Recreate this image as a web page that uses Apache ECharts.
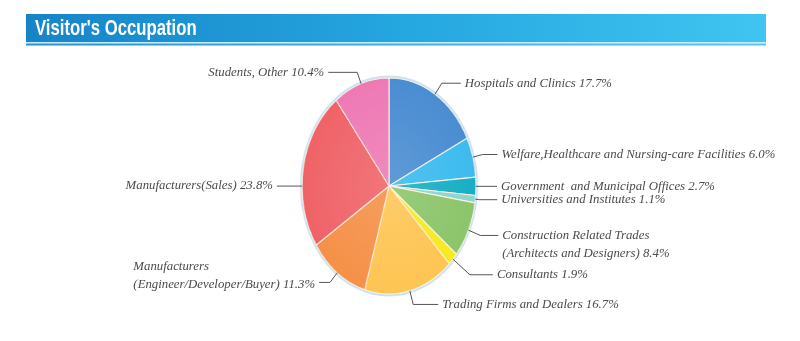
<!DOCTYPE html>
<html>
<head>
<meta charset="utf-8">
<script src="https://cdn.jsdelivr.net/npm/echarts@6/dist/echarts.min.js"></script>
<style>
  html, body { margin: 0; padding: 0; background: #ffffff; }
  #wrap { position: relative; width: 800px; height: 341px; overflow: hidden; }
  #pie { position: absolute; left: 0; top: 0; width: 800px; height: 341px;
         transform-origin: 389px 186px; }
  #main { position: absolute; left: 0; top: 0; width: 800px; height: 341px; }
</style>
</head>
<body>
<div id="wrap">
  <div id="pie"></div>
  <div id="main"></div>
</div>
<script>
// ---- data ----
const titleText = "Visitor's Occupation";
const categories = [
  'Hospitals and Clinics',
  'Welfare,Healthcare and Nursing-care Facilities',
  'Government  and Municipal Offices',
  'Universities and Institutes',
  'Construction Related Trades\n(Architects and Designers)',
  'Consultants',
  'Trading Firms and Dealers',
  'Manufacturers\n(Engineer/Developer/Buyer)',
  'Manufacturers(Sales)',
  'Students, Other'
];
const values = [17.7, 6.0, 2.7, 1.1, 8.4, 1.9, 16.7, 11.3, 23.8, 10.4];

// ---- styles / layout ----
const colors = ['#4a8dd2', '#3dbbef', '#17afc6', '#8fd4cf', '#8cc56b',
                '#f7ea1e', '#fec553', '#f59148', '#ef6368', '#ee7ab5'];
const CX = 389, CY = 186, RY = 108, RX = 87;
const anchorFrac = [0.5, 0.5, 0.5, 0.5, 0.5, 0.5, 0.5, 0.5, 0.386, 0.5];
const elbowLen   = [13, 10, 3, 4, 13, 23, 14, 12, 0, 12];
const armLen     = [19, 15, 18, 18, 18, 23, 25, 11, 25, 29];
const LINE_H = 18;

document.getElementById('pie').style.transform = 'scaleX(' + (RX / RY) + ')';

function lighten(hex, t) {
  const n = parseInt(hex.slice(1), 16);
  const r = (n >> 16) & 255, g = (n >> 8) & 255, b = n & 255;
  const f = c => Math.round(c + (255 - c) * t);
  return 'rgb(' + f(r) + ',' + f(g) + ',' + f(b) + ')';
}

const pieData = categories.map((c, i) => ({
  name: c,
  value: values[i],
  itemStyle: {
    color: {
      type: 'radial', x: CX, y: CY, r: RY, global: true,
      colorStops: [{ offset: 0, color: lighten(colors[i], 0.12) },
                   { offset: 1, color: colors[i] }]
    }
  }
}));

// ---- slice chart (horizontally squeezed to an ellipse) ----
const pieChart = echarts.init(document.getElementById('pie'), null, { renderer: 'canvas' });
pieChart.setOption({
  animation: false,
  graphic: [{
    type: 'circle', z: -10,
    shape: { cx: CX, cy: CY, r: RY + 2.5 },
    style: { fill: '#c9e3f2' }
  }],
  series: [{
    type: 'pie',
    center: [CX, CY],
    radius: RY,
    startAngle: 90,
    clockwise: true,
    label: { show: false },
    labelLine: { show: false },
    itemStyle: { borderColor: 'rgba(255,242,228,0.95)', borderWidth: 1.2 },
    emphasis: { disabled: true },
    silent: true,
    data: pieData
  }]
});

// ---- label + title chart ----
const total = values.reduce((a, b) => a + b, 0);
function sliceAngle(i) {
  let before = 0;
  for (let k = 0; k < i; k++) before += values[k];
  const start = before / total * 2 * Math.PI;
  const span = values[i] / total * 2 * Math.PI;
  return start + anchorFrac[i] * span;
}

const mainChart = echarts.init(document.getElementById('main'), null, { renderer: 'canvas' });
mainChart.setOption({
  animation: false,
  backgroundColor: 'transparent',
  graphic: [
    {
      type: 'rect', shape: { x: 26, y: 14, width: 740, height: 28 },
      style: {
        fill: {
          type: 'linear', x: 0, y: 0, x2: 1, y2: 0,
          colorStops: [{ offset: 0, color: '#1784c8' }, { offset: 0.5, color: '#24a6df' },
                       { offset: 1, color: '#40c5f1' }]
        }
      }
    },
    { type: 'rect', shape: { x: 26, y: 42, width: 740, height: 1.5 }, style: { fill: '#c4ecfb' } },
    {
      type: 'rect', shape: { x: 26, y: 43.5, width: 740, height: 2 },
      style: {
        fill: {
          type: 'linear', x: 0, y: 0, x2: 1, y2: 0,
          colorStops: [{ offset: 0, color: '#2a8fcf' }, { offset: 1, color: '#58c6ee' }]
        }
      }
    },
    {
      type: 'text', x: 35, y: 29, scaleX: 0.76, originX: 0, originY: 0,
      style: {
        text: titleText, fill: '#ffffff',
        verticalAlign: 'middle', align: 'left',
        font: 'bold 22px "Liberation Sans", Arial, sans-serif'
      }
    }
  ],
  series: [{
    type: 'pie',
    center: [CX, CY],
    radius: RY,
    startAngle: 90,
    clockwise: true,
    silent: true,
    bleedMargin: 2,
    emphasis: { disabled: true },
    itemStyle: { color: 'rgba(0,0,0,0)', borderWidth: 0 },
    label: {
      show: true,
      position: 'outside',
      overflow: 'none',
      formatter: p => p.name + ' ' + p.value.toFixed(1) + '%',
      fontFamily: '"Liberation Serif", serif',
      fontStyle: 'italic',
      fontSize: 12.8,
      lineHeight: LINE_H,
      color: '#4a4a4a'
    },
    labelLine: {
      show: true,
      length: 0, length2: 0,
      lineStyle: { color: '#555555', width: 1 }
    },
    labelLayout: function (params) {
      const i = params.dataIndex;
      const th = sliceAngle(i);
      const s = Math.sin(th), c = Math.cos(th);
      const L = elbowLen[i];
      const p0 = [CX + RX * s, CY - RY * c];
      const p1 = [CX + (RX + L) * s, CY - (RY + L) * c];
      const side = s >= 0 ? 1 : -1;
      const p2 = [p1[0] + side * armLen[i], p1[1]];
      const multi = categories[i].indexOf('\n') >= 0;
      let y = p2[1], va = 'middle';
      let x = p2[0] + side * 4, align = side > 0 ? 'left' : 'right';
      if (multi) {
        if (side > 0) { va = 'top'; y = p2[1] - LINE_H / 2; }
        else {
          va = 'bottom'; y = p2[1] + LINE_H / 2 + 2;
          align = 'left';
          x = p2[0] - 4 - params.labelRect.width;
        }
      }
      return {
        x: x,
        y: y,
        align: align,
        verticalAlign: va,
        labelLinePoints: [p0, p1, p2]
      };
    },
    data: categories.map((c, i) => ({ name: c, value: values[i] }))
  }]
});
</script>
</body>
</html>
